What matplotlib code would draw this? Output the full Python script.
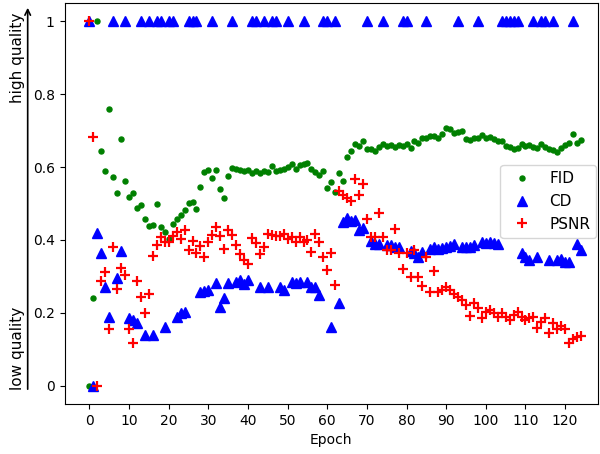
import matplotlib
matplotlib.use("Agg")
import matplotlib.pyplot as plt
import numpy as np

epochs = list(range(125))

fid = [0.0, 0.24, 1.0, 0.645, 0.59, 0.76, 0.572, 0.529, 0.677, 0.562,
       0.519, 0.528, 0.487, 0.495, 0.458, 0.437, 0.441, 0.499, 0.435, 0.421,
       0.403, 0.443, 0.458, 0.468, 0.483, 0.501, 0.505, 0.484, 0.545, 0.586,
       0.593, 0.570, 0.593, 0.539, 0.514, 0.576, 0.598, 0.596, 0.593, 0.590,
       0.592, 0.585, 0.590, 0.585, 0.588, 0.587, 0.603, 0.590, 0.592, 0.596,
       0.601, 0.607, 0.595, 0.605, 0.607, 0.612, 0.594, 0.587, 0.579, 0.588,
       0.543, 0.558, 0.531, 0.585, 0.561, 0.628, 0.645, 0.662, 0.658, 0.672,
       0.650, 0.650, 0.643, 0.654, 0.662, 0.657, 0.660, 0.655, 0.660, 0.659,
       0.664, 0.652, 0.671, 0.667, 0.680, 0.680, 0.686, 0.684, 0.679, 0.692,
       0.707, 0.704, 0.694, 0.697, 0.698, 0.678, 0.674, 0.679, 0.679, 0.689,
       0.679, 0.683, 0.678, 0.672, 0.672, 0.658, 0.654, 0.649, 0.651, 0.663,
       0.658, 0.660, 0.656, 0.652, 0.663, 0.656, 0.649, 0.647, 0.640, 0.652,
       0.661, 0.665, 0.690, 0.667, 0.674]

cd = [1, 0, 0.42, 0.365, 0.27, 0.19, 1, 0.296, 0.371, 1,
      0.186, 0.18, 0.171, 1, 0.139, 1, 0.139, 1, 1, 0.162,
      1, 1, 0.19, 0.199, 0.201, 1, 1, 1, 0.258, 0.26,
      0.262, 1, 0.282, 0.217, 0.24, 0.281, 1, 0.286, 0.289, 0.28,
      0.29, 1, 1, 0.271, 1, 0.271, 1, 1, 0.27, 0.262,
      1, 0.285, 0.281, 0.284, 1, 0.285, 0.271, 0.27, 0.249, 1,
      1, 0.16, 1, 0.226, 0.45, 0.46, 0.452, 0.454, 0.426, 0.433,
      1, 0.396, 0.39, 0.39, 1, 0.385, 0.385, 0.381, 0.381, 1,
      1, 0.37, 0.365, 0.353, 0.366, 1, 0.376, 0.381, 0.376, 0.378,
      0.381, 0.383, 0.388, 1, 0.382, 0.381, 0.38, 0.385, 1, 0.394,
      0.392, 0.394, 0.392, 0.39, 1, 1, 1, 1, 1, 0.364,
      0.353, 0.344, 1, 0.353, 1, 1, 0.344, 1, 0.344, 0.349,
      0.34, 0.34, 1, 0.39, 0.372]

psnr = [1.0, 0.683, 0.0, 0.288, 0.311, 0.157, 0.381, 0.265, 0.322, 0.305,
        0.157, 0.118, 0.288, 0.244, 0.199, 0.253, 0.356, 0.385, 0.408, 0.394,
        0.394, 0.41, 0.422, 0.403, 0.428, 0.372, 0.397, 0.364, 0.383, 0.353,
        0.394, 0.413, 0.435, 0.41, 0.375, 0.428, 0.413, 0.387, 0.361, 0.346,
        0.335, 0.405, 0.392, 0.361, 0.381, 0.417, 0.413, 0.41, 0.41, 0.415,
        0.403, 0.408, 0.394, 0.408, 0.394, 0.401, 0.367, 0.415, 0.394, 0.352,
        0.317, 0.363, 0.276, 0.534, 0.522, 0.516, 0.508, 0.566, 0.522, 0.554,
        0.458, 0.408, 0.408, 0.475, 0.408, 0.372, 0.372, 0.431, 0.363, 0.319,
        0.363, 0.299, 0.372, 0.299, 0.273, 0.352, 0.258, 0.315, 0.258, 0.262,
        0.271, 0.262, 0.253, 0.244, 0.235, 0.221, 0.191, 0.228, 0.212, 0.187,
        0.203, 0.208, 0.199, 0.189, 0.199, 0.189, 0.18, 0.194, 0.203, 0.189,
        0.18, 0.185, 0.189, 0.158, 0.176, 0.185, 0.144, 0.171, 0.155, 0.165,
        0.155, 0.118, 0.128, 0.133, 0.136]

ytick_vals = [0, 0.2, 0.4, 0.6, 0.8, 1]
ytick_labels = ["0", "0.2", "0.4", "0.6", "0.8", "1"]
xtick_vals = list(range(0, 121, 10))

fig = plt.figure(figsize=(6.0, 4.54), dpi=100)
ax = fig.add_axes([64.5 / 600, 1 - 404 / 454, (598 - 64.5) / 600, (404 - 3) / 454])

ax.plot(epochs, fid, linestyle="none", marker="o", color="green", ms=3.6, label="FID")
ax.plot(epochs, cd, linestyle="none", marker="^", color="blue", ms=7, label="CD")
ax.plot(epochs, psnr, linestyle="none", marker="+", color="red", ms=7.5, mew=1.6, label="PSNR")

ax.set_xlim(-6.3, 128.3)
ax.set_ylim(-0.05, 1.05)
ax.set_xticks(xtick_vals)
ax.set_yticks(ytick_vals)
ax.set_yticklabels(ytick_labels)
ax.set_xlabel("Epoch")
ax.legend(loc="center right", fontsize=11, bbox_to_anchor=(1.0, 0.505),
          borderaxespad=0.1)

# quality arrow on the left
ax.annotate("", xy=(-0.069, 0.995), xytext=(-0.069, 0.03), xycoords="axes fraction",
            textcoords="axes fraction", annotation_clip=False,
            arrowprops=dict(arrowstyle="->", color="black", lw=1.2))
ax.text(-0.088, 0.975, "high quality", rotation=90, ha="center", va="top",
        fontsize=11, transform=ax.transAxes)
ax.text(-0.088, 0.035, "low quality", rotation=90, ha="center", va="bottom",
        fontsize=11, transform=ax.transAxes)

fig.savefig("out.png", dpi=100)
